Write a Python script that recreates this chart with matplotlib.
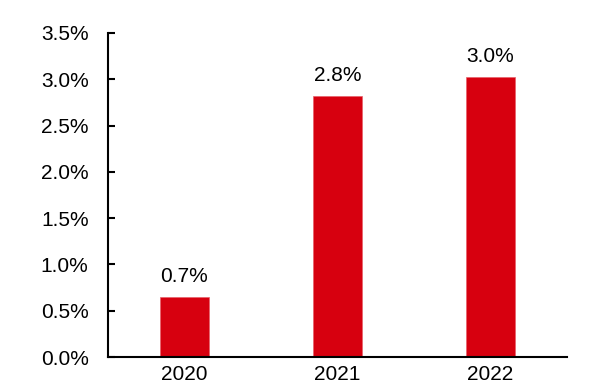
import matplotlib
matplotlib.use("Agg")
import matplotlib.pyplot as plt
from matplotlib.ticker import FuncFormatter, MultipleLocator

years = ["2020", "2021", "2022"]
values = [0.65, 2.82, 3.02]
labels = ["0.7%", "2.8%", "3.0%"]

plt.rcParams['font.family'] = ['Liberation Sans', 'DejaVu Sans']

fig = plt.figure(figsize=(5.9, 3.9), dpi=100)
ax = fig.add_axes([0.183, 0.0846, 0.778, 0.8308])

x = range(len(years))
bars = ax.bar(x, values, width=0.32, color="#D7000F", edgecolor="#E8606A", linewidth=0.5)
for xi, v, lab in zip(x, values, labels):
    ax.annotate(lab, (xi, v), xytext=(0, 11), textcoords="offset points",
                ha="center", va="baseline", fontsize=15)

ax.set_xlim(-0.5, 2.5)
ax.set_ylim(0, 3.5)
ax.yaxis.set_major_locator(MultipleLocator(0.5))
ax.yaxis.set_major_formatter(FuncFormatter(lambda v, p: f"{v:.1f}%"))
ax.set_xticks(list(x))
ax.set_xticklabels(years)

for s in ["top", "right"]:
    ax.spines[s].set_visible(False)
for s in ["left", "bottom"]:
    ax.spines[s].set_linewidth(1.5)
    ax.spines[s].set_color("black")

ax.tick_params(axis="y", direction="in", length=5, width=1.5, labelsize=15, pad=14)
ax.tick_params(axis="x", length=0, labelsize=15, pad=6)

fig.savefig("out.png", dpi=100)
